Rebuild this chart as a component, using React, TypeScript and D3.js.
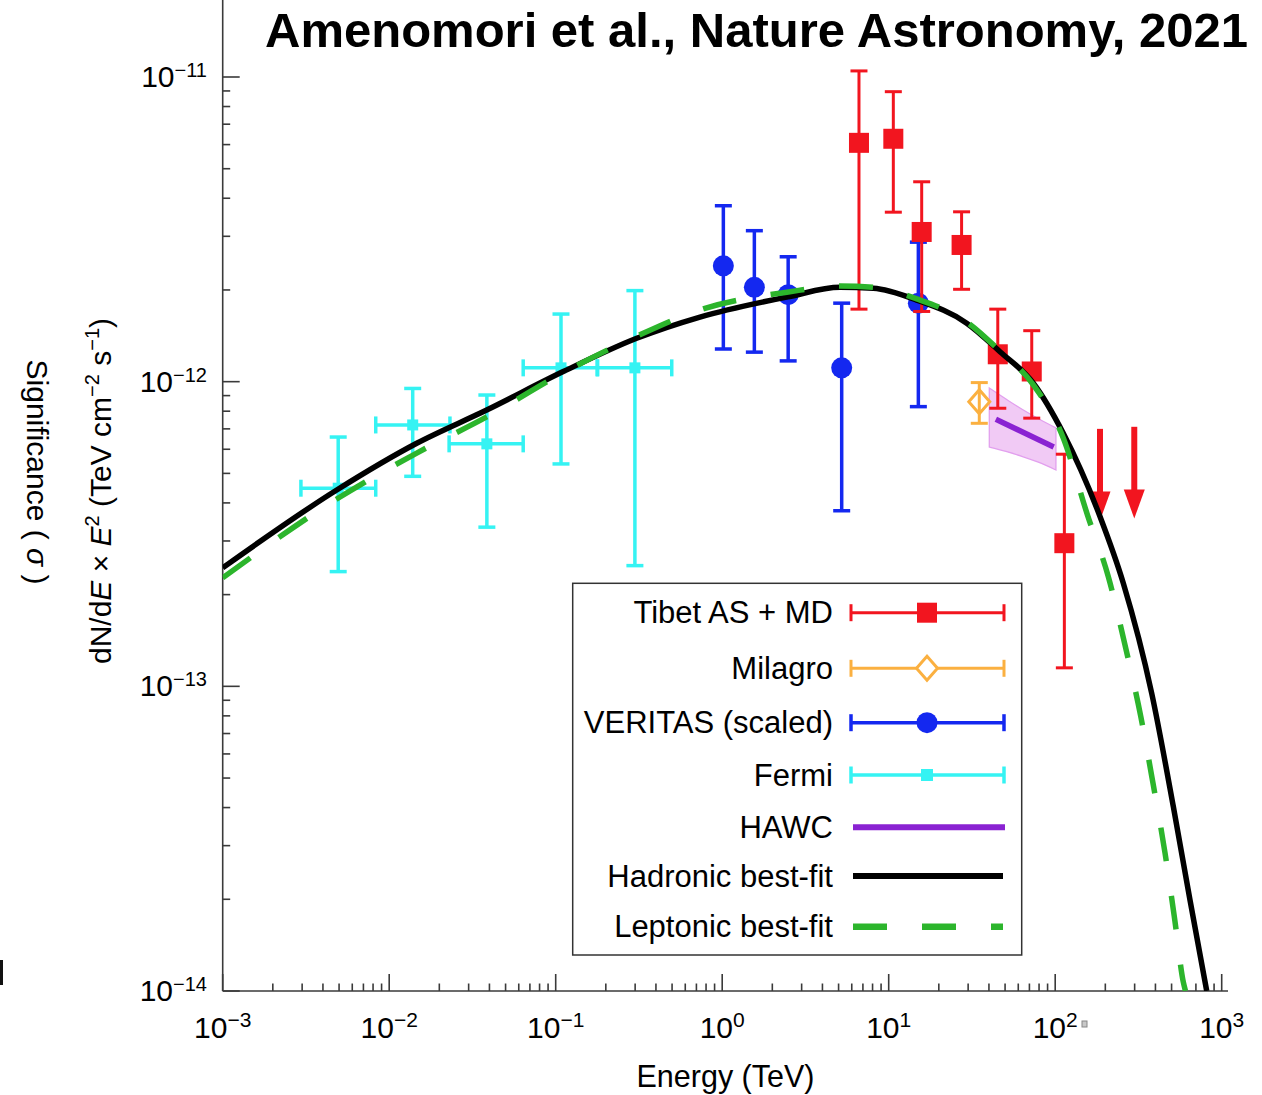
import React from 'react';
import * as d3 from 'd3';

// ---------- data ----------
// Tibet AS+MD
const tibetE = [6.63, 10.66, 15.78, 27.4, 45.2, 72.3, 113.5];
const tibetF = [6.08e-12, 6.27e-12, 3.1e-12, 2.81e-12, 1.23e-12, 1.08e-12, 2.95e-13];
const tibetHi = [1.047e-11, 8.95e-12, 4.53e-12, 3.61e-12, 1.73e-12, 1.47e-12, 5.78e-13];
const tibetLo = [1.73e-12, 3.6e-12, 1.7e-12, 2.01e-12, 8.18e-13, 7.59e-13, 1.15e-13];
const tibetUlE = [185.8, 298.5];
const tibetUlF = [7.0e-13, 7.11e-13];

// Milagro
const milagroE = [35.0];
const milagroF = [8.59e-13];
const milagroHi = [9.93e-13];
const milagroLo = [7.3e-13];

// VERITAS (scaled)
const veritasE = [1.016, 1.56, 2.49, 5.22, 15.07];
const veritasF = [2.4e-12, 2.04e-12, 1.93e-12, 1.11e-12, 1.81e-12];
const veritasHi = [3.78e-12, 3.13e-12, 2.57e-12, 1.81e-12, 2.87e-12];
const veritasLo = [1.28e-12, 1.25e-12, 1.17e-12, 3.77e-13, 8.28e-13];

// Fermi
const fermiE = [0.00494, 0.01384, 0.0386, 0.1076, 0.299];
const fermiElo = [0.00295, 0.0083, 0.0229, 0.0638, 0.1773];
const fermiEhi = [0.0083, 0.02317, 0.0638, 0.1786, 0.4977];
const fermiF = [4.47e-13, 7.21e-13, 6.25e-13, 1.11e-12, 1.11e-12];
const fermiHi = [6.58e-13, 9.5e-13, 9.04e-13, 1.667e-12, 1.99e-12];
const fermiLo = [2.38e-13, 4.89e-13, 3.33e-13, 5.37e-13, 2.49e-13];

// HAWC
const hawcE = [44, 98];
const hawcF = [7.53e-13, 6.1e-13];
const hawcBandE = [40.2, 50.6, 63.6, 79.9, 101];
const hawcBandHi = [9.53e-13, 8.77e-13, 8.1e-13, 7.54e-13, 7.05e-13];
const hawcBandLo = [6.1e-13, 5.9e-13, 5.68e-13, 5.43e-13, 5.13e-13];

// Hadronic best-fit
const hadE = [0.001, 0.00484, 0.01463, 0.0385, 0.111, 0.3065, 0.7355, 2.495, 5.1, 8.08, 14.73, 29.4, 46.6, 73.9, 111.8, 185.8, 256.5, 379.8, 512.2, 645, 813];
const hadF = [2.45e-13, 4.41e-13, 6.28e-13, 8.07e-13, 1.079e-12, 1.388e-12, 1.63e-12, 1.9e-12, 2.04e-12, 2.025e-12, 1.853e-12, 1.556e-12, 1.254e-12, 9.88e-13, 6.77e-13, 3.61e-13, 2.18e-13, 9.49e-14, 4.03e-14, 1.99e-14, 1.0e-14];

// Leptonic best-fit
const lepE = [0.001, 0.00484, 0.01463, 0.0385, 0.111, 0.3065, 0.7355, 2.495, 5.1, 8.08, 14.73, 29.4, 46.6, 73.9, 111.8, 156.3, 208.5, 265.6, 326.6, 388.2, 456.6, 524.2, 588, 606];
const lepF = [2.27e-13, 4.12e-13, 5.83e-13, 7.66e-13, 1.07e-12, 1.41e-12, 1.72e-12, 1.97e-12, 2.06e-12, 2.04e-12, 1.87e-12, 1.57e-12, 1.26e-12, 9.76e-13, 6.53e-13, 3.65e-13, 2.29e-13, 1.33e-13, 7.96e-14, 4.75e-14, 2.84e-14, 1.69e-14, 1.07e-14, 1.0e-14];

const xTickExp = [-3, -2, -1, 0, 1, 2, 3];
const yTickExp = [-14, -13, -12, -11];

const legendLabels = ['Tibet AS + MD', 'Milagro', 'VERITAS (scaled)', 'Fermi', 'HAWC', 'Hadronic best-fit', 'Leptonic best-fit'];

// ---------- styles ----------
const C = {
  red: '#f2151f',
  orange: '#fbb040',
  blue: '#1428f0',
  cyan: '#35f3f3',
  purple: '#8a22d2',
  green: '#2cb52c',
  black: '#000',
  axis: '#3a3a3a',
};
const FONT = "'Liberation Sans', Arial, Helvetica, sans-serif";

const fmtExp = (k: number) => (k < 0 ? '\u2212' + Math.abs(k) : String(k));

export default function App() {
  const W = 1262;
  const H = 1095;
  const x = d3.scaleLog().domain([1e-3, 1e3]).range([222.7, 1221.7]);
  const y = d3.scaleLog().domain([1e-14, 1e-11]).range([991, 77]);
  const x0 = x(1e-3);
  const y0 = y(1e-14);
  const xEnd = 1228;
  const yTop = 0;

  const xMinor: number[] = [];
  for (let k = -3; k < 3; k++) for (let m = 2; m <= 9; m++) xMinor.push(m * Math.pow(10, k));
  const yMinor: number[] = [];
  for (let k = -14; k < -11; k++) for (let m = 2; m <= 9; m++) yMinor.push(m * Math.pow(10, k));

  const line = d3
    .line<[number, number]>()
    .x((d) => x(d[0]))
    .y((d) => y(d[1]))
    .curve(d3.curveMonotoneX);

  const hadPath = line(hadE.map((e, i) => [e, hadF[i]]))!;
  const lepPath = line(lepE.map((e, i) => [e, lepF[i]]))!;

  const band = d3
    .area<number>()
    .x((i) => x(hawcBandE[i]))
    .y0((i) => y(hawcBandLo[i]))
    .y1((i) => y(hawcBandHi[i]))
    .curve(d3.curveMonotoneX);
  const bandPath = band(hawcBandE.map((_, i) => i))!;

  const cap = 8.5;

  const yErr = (xx: number, hi: number, lo: number, color: string, sw: number, key: string) => (
    <g key={key} stroke={color} strokeWidth={sw} fill="none">
      <line x1={xx} x2={xx} y1={y(hi)} y2={y(lo)} />
      <line x1={xx - cap} x2={xx + cap} y1={y(hi)} y2={y(hi)} />
      <line x1={xx - cap} x2={xx + cap} y1={y(lo)} y2={y(lo)} />
    </g>
  );

  const legendRows = [612.7, 668.3, 722.7, 775, 827.3, 876, 926.7];
  const lx1 = 851;
  const lx2 = 1004;
  const lxm = 927;

  const legendSym = (i: number, yy: number) => {
    const errLine = (color: string, sw: number) => (
      <g stroke={color} strokeWidth={sw} fill="none">
        <line x1={lx1} x2={lx2} y1={yy} y2={yy} />
        <line x1={lx1} x2={lx1} y1={yy - cap} y2={yy + cap} />
        <line x1={lx2} x2={lx2} y1={yy - cap} y2={yy + cap} />
      </g>
    );
    switch (i) {
      case 0:
        return (
          <g>
            {errLine(C.red, 3)}
            <rect x={lxm - 10} y={yy - 10} width={20} height={20} fill={C.red} />
          </g>
        );
      case 1:
        return (
          <g>
            {errLine(C.orange, 3)}
            <path d={`M${lxm},${yy - 12}L${lxm + 10.5},${yy}L${lxm},${yy + 12}L${lxm - 10.5},${yy}Z`} fill="#fff" stroke={C.orange} strokeWidth={3} />
          </g>
        );
      case 2:
        return (
          <g>
            {errLine(C.blue, 3.5)}
            <circle cx={lxm} cy={yy} r={10.5} fill={C.blue} />
          </g>
        );
      case 3:
        return (
          <g>
            {errLine(C.cyan, 3.5)}
            <rect x={lxm - 6} y={yy - 6} width={12} height={12} fill={C.cyan} />
          </g>
        );
      case 4:
        return <line x1={853} x2={1005} y1={yy} y2={yy} stroke={C.purple} strokeWidth={6} />;
      case 5:
        return <line x1={853} x2={1003} y1={yy} y2={yy} stroke={C.black} strokeWidth={6} />;
      default:
        return <line x1={853} x2={1003} y1={yy} y2={yy} stroke={C.green} strokeWidth={6.5} strokeDasharray="34 35" />;
    }
  };

  return (
    <svg width={W} height={H} style={{ position: 'absolute', left: 0, top: 0, background: '#fff' }} fontFamily={FONT}>
      <defs>
        <clipPath id="plotClip">
          <rect x={x0} y={0} width={xEnd - x0 + 20} height={y0} />
        </clipPath>
      </defs>
      <rect x={0} y={0} width={W} height={H} fill="#fff" />

      {/* title */}
      <text x={265} y={47} fontFamily={FONT} fontWeight={700} fontSize={48.5} textLength={983} lengthAdjust="spacingAndGlyphs" fill="#000">
        Amenomori et al., Nature Astronomy, 2021
      </text>

      {/* axes */}
      <g stroke={C.axis} strokeWidth={1.6} fill="none">
        <line x1={x0} x2={x0} y1={yTop} y2={y0} />
        <line x1={x0} x2={xEnd} y1={y0} y2={y0} />
        {xTickExp.map((k) => (
          <line key={'xM' + k} x1={x(Math.pow(10, k))} x2={x(Math.pow(10, k))} y1={y0} y2={y0 - 17} />
        ))}
        {xMinor.map((v, i) => (
          <line key={'xm' + i} x1={x(v)} x2={x(v)} y1={y0} y2={y0 - 7.5} />
        ))}
        {yTickExp.map((k) => (
          <line key={'yM' + k} x1={x0} x2={x0 + 17} y1={y(Math.pow(10, k))} y2={y(Math.pow(10, k))} />
        ))}
        {yMinor.map((v, i) => (
          <line key={'ym' + i} x1={x0} x2={x0 + 7.5} y1={y(v)} y2={y(v)} />
        ))}
      </g>

      {/* tick labels */}
      <g fill="#000" fontSize={30}>
        {xTickExp.map((k) => (
          <text key={'xl' + k} x={x(Math.pow(10, k))} y={y0 + 47} textAnchor="middle">
            10<tspan fontSize={21} dy={-11}>{fmtExp(k)}</tspan>
          </text>
        ))}
        {yTickExp.map((k) => (
          <text key={'yl' + k} x={207} y={y(Math.pow(10, k)) + 10} textAnchor="end">
            10<tspan fontSize={20} dy={-10}>{fmtExp(k)}</tspan>
          </text>
        ))}
      </g>
      <rect x={1082} y={1021} width={5} height={6} fill="#c8c8c8" stroke="#888" strokeWidth={1} />
      <rect x={0} y={960} width={3} height={25} fill="#111" />

      {/* axis titles */}
      <text x={725.5} y={1087} textAnchor="middle" fontSize={30.5} fill="#000">
        Energy (TeV)
      </text>
      <text transform="translate(111,491) rotate(-90)" textAnchor="middle" fontSize={30} fill="#000">
        dN/d<tspan fontStyle="italic">E</tspan>
        {' \u00d7 '}
        <tspan fontStyle="italic">E</tspan>
        <tspan fontSize={20} dy={-12}>2</tspan>
        <tspan dy={12}>{' (TeV cm'}</tspan>
        <tspan fontSize={20} dy={-12}>{'\u22122'}</tspan>
        <tspan dy={12}>{' s'}</tspan>
        <tspan fontSize={20} dy={-12}>{'\u22121'}</tspan>
        <tspan dy={12}>)</tspan>
      </text>
      <text transform="translate(27,472) rotate(90)" textAnchor="middle" fontSize={30} fill="#000">
        {'Significance ( '}
        <tspan fontStyle="italic">σ</tspan>
        {' )'}
      </text>

      {/* HAWC band */}
      <path d={bandPath} fill="#efc4f4" fillOpacity={0.9} stroke="#e2a0ee" strokeWidth={1.3} />
      <line x1={x(hawcE[0])} y1={y(hawcF[0])} x2={x(hawcE[1])} y2={y(hawcF[1])} stroke={C.purple} strokeWidth={5.5} />

      {/* Fermi */}
      {fermiE.map((e, i) => {
        const xx = x(e);
        const yy = y(fermiF[i]);
        return (
          <g key={'f' + i}>
            {yErr(xx, fermiHi[i], fermiLo[i], C.cyan, 3.5, 'fe' + i)}
            <g stroke={C.cyan} strokeWidth={3.5}>
              <line x1={x(fermiElo[i])} x2={x(fermiEhi[i])} y1={yy} y2={yy} />
              <line x1={x(fermiElo[i])} x2={x(fermiElo[i])} y1={yy - cap} y2={yy + cap} />
              <line x1={x(fermiEhi[i])} x2={x(fermiEhi[i])} y1={yy - cap} y2={yy + cap} />
            </g>
            <rect x={xx - 5.5} y={yy - 5.5} width={11} height={11} fill={C.cyan} />
          </g>
        );
      })}

      {/* VERITAS */}
      {veritasE.map((e, i) => (
        <g key={'v' + i}>
          {yErr(x(e), veritasHi[i], veritasLo[i], C.blue, 3.5, 've' + i)}
          <circle cx={x(e)} cy={y(veritasF[i])} r={10.5} fill={C.blue} />
        </g>
      ))}

      {/* Tibet */}
      {tibetE.map((e, i) => (
        <g key={'t' + i}>
          {yErr(x(e), tibetHi[i], tibetLo[i], C.red, 3, 'te' + i)}
          <rect x={x(e) - 10} y={y(tibetF[i]) - 10} width={20} height={20} fill={C.red} />
        </g>
      ))}
      {tibetUlE.map((e, i) => {
        const xx = x(e);
        const yt = y(tibetUlF[i]);
        const yb = y(tibetUlF[i] / 2);
        return (
          <g key={'ul' + i} fill={C.red}>
            <line x1={xx} x2={xx} y1={yt} y2={yb - 24} stroke={C.red} strokeWidth={6} />
            <path d={`M${xx - 10.5},${yb - 29}L${xx + 10.5},${yb - 29}L${xx},${yb}Z`} />
          </g>
        );
      })}

      {/* Milagro */}
      {milagroE.map((e, i) => {
        const xx = x(e);
        const yy = y(milagroF[i]);
        return (
          <g key={'m' + i}>
            {yErr(xx, milagroHi[i], milagroLo[i], C.orange, 3, 'me' + i)}
            <path d={`M${xx},${yy - 12}L${xx + 10.5},${yy}L${xx},${yy + 12}L${xx - 10.5},${yy}Z`} fill="none" stroke={C.orange} strokeWidth={3} />
          </g>
        );
      })}

      {/* model curves */}
      <g clipPath="url(#plotClip)" fill="none">
        <path d={hadPath} stroke={C.black} strokeWidth={5.5} />
        <path d={lepPath} stroke={C.green} strokeWidth={5.5} strokeDasharray="34 35" />
      </g>

      {/* legend */}
      <rect x={572.7} y={583.3} width={449} height={371.7} fill="#fff" stroke="#333" strokeWidth={1.5} />
      {legendLabels.map((lab, i) => (
        <g key={'lg' + i}>
          <text x={833} y={legendRows[i] + 10.5} textAnchor="end" fontSize={31} fill="#000">
            {lab}
          </text>
          {legendSym(i, legendRows[i])}
        </g>
      ))}
    </svg>
  );
}
